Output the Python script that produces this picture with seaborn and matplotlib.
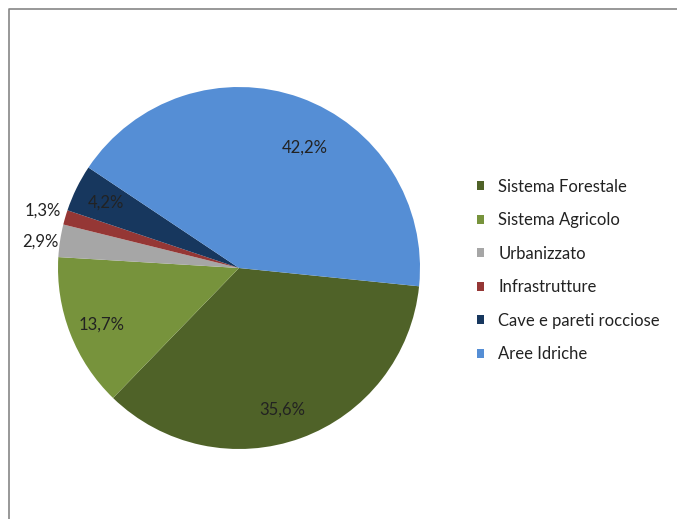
import numpy as np
import matplotlib
matplotlib.use("Agg")
import matplotlib.pyplot as plt
import seaborn as sns
from matplotlib.patches import Patch
from matplotlib.lines import Line2D

sns.set_theme(style="white")
plt.rcParams["font.family"] = ["Lato", "DejaVu Sans"]

categories = ["Sistema Forestale", "Sistema Agricolo", "Urbanizzato",
              "Infrastrutture", "Cave e pareti rocciose", "Aree Idriche"]
values = [35.6, 13.7, 2.9, 1.3, 4.2, 42.2]
labels = ["35,6%", "13,7%", "2,9%", "1,3%", "4,2%", "42,2%"]
colors = ["#4F6228", "#77933C", "#A6A6A6", "#953735", "#17375E", "#558ED5"]

# label placement: radial distance (fraction of radius) and angular nudge (deg)
label_dist = [0.82, 0.82, 1.11, 1.13, 0.82, 0.76]
label_nudge = [-3, 1, 1, 0, 0, -9]

fig = plt.figure(figsize=(6.77, 5.19), dpi=100)
fig.patch.set_facecolor("white")

W, H = 677, 519
cx, cy, r = 239, 268, 181
ax = fig.add_axes([(cx - r) / W, (H - cy - r) / H, 2 * r / W, 2 * r / H])

wedges, _ = ax.pie(values, colors=colors, startangle=-5.8, counterclock=False,
                   radius=1.0, wedgeprops=dict(linewidth=0))
ax.set_xlim(-1, 1)
ax.set_ylim(-1, 1)
ax.set_aspect("equal")
ax.axis("off")

for w, lab, d, n in zip(wedges, labels, label_dist, label_nudge):
    mid = np.deg2rad((w.theta1 + w.theta2) / 2 + n)
    ax.text(d * np.cos(mid), d * np.sin(mid), lab, ha="center", va="center",
            fontsize=12, color="#222222")

handles = [Patch(facecolor=c, edgecolor="none") for c in colors]
fig.legend(handles, categories, loc="upper left", bbox_to_anchor=(470 / W, 1 - 172 / H),
           frameon=False, fontsize=12, handlelength=0.45, handleheight=0.45,
           handletextpad=0.85, labelspacing=1.05, labelcolor="#222222",
           borderaxespad=0)

# chart-area border (left and top edges visible)
fig.add_artist(Line2D([8.5 / W, 8.5 / W, 1.0], [0.0, 1 - 9 / H, 1 - 9 / H],
                      transform=fig.transFigure, color="#868686", linewidth=1.2))

fig.savefig("out.png", dpi=100)
